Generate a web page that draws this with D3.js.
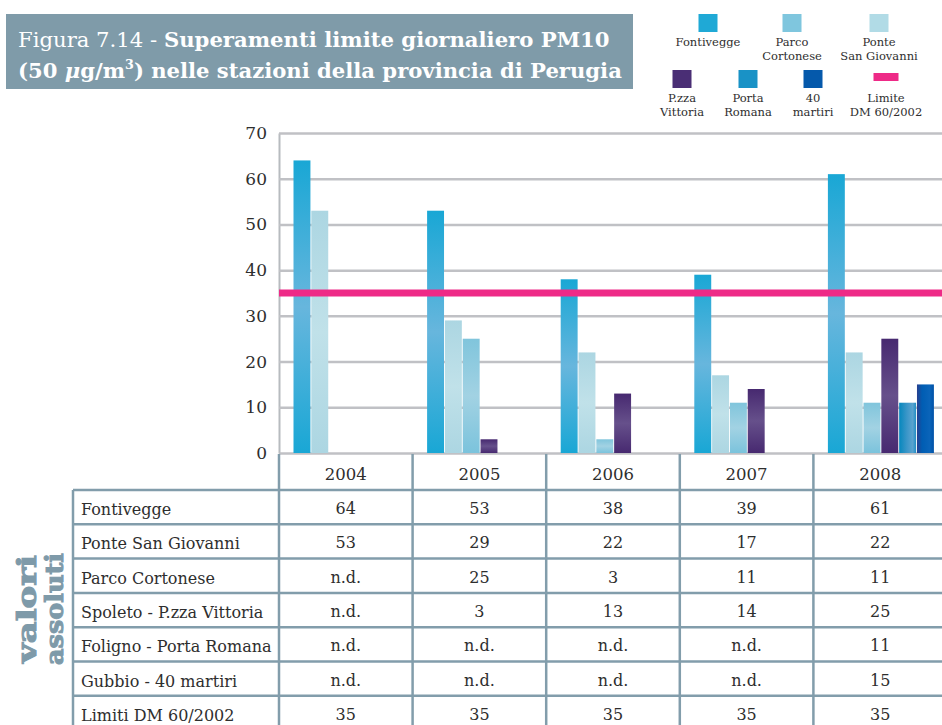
<!DOCTYPE html>
<html lang="it">
<head>
<meta charset="UTF-8">
<title>Figura 7.14 - Superamenti limite giornaliero PM10</title>
<script src="https://d3js.org/d3.v7.min.js"></script>
<style>
  body { margin: 0; background: #fff; }
</style>
</head>
<body>
<svg width="942" height="725"></svg>
<script>
// dati (numero di superamenti)
const years = ['2004', '2005', '2006', '2007', '2008'];
const stations = ['Fontivegge', 'Ponte San Giovanni', 'Parco Cortonese',
  'Spoleto - P.zza Vittoria', 'Foligno - Porta Romana', 'Gubbio - 40 martiri'];
const fontivegge = [64, 53, 38, 39, 61];
const ponteSanGiovanni = [53, 29, 22, 17, 22];
const parcoCortonese = [null, 25, 3, 11, 11];
const pzzaVittoria = [null, 3, 13, 14, 25];
const portaRomana = [null, null, null, null, 11];
const quarantaMartiri = [null, null, null, null, 15];
const limite = [35, 35, 35, 35, 35];
const limiteLabel = 'Limiti DM 60/2002';
const yTicks = [0, 10, 20, 30, 40, 50, 60, 70];

const legendItems = [
  { key: 'font', lines: ['Fontivegge'] },
  { key: 'parco', lines: ['Parco', 'Cortonese'] },
  { key: 'ponte', lines: ['Ponte', 'San Giovanni'] },
  { key: 'vitt', lines: ['P.zza', 'Vittoria'] },
  { key: 'porta', lines: ['Porta', 'Romana'] },
  { key: 'mart', lines: ['40', 'martiri'] },
  { key: 'lim', lines: ['Limite', 'DM 60/2002'] }
];

const series = [
  { key: 'font', values: fontivegge },
  { key: 'ponte', values: ponteSanGiovanni },
  { key: 'parco', values: parcoCortonese },
  { key: 'vitt', values: pzzaVittoria },
  { key: 'porta', values: portaRomana },
  { key: 'mart', values: quarantaMartiri }
];

const flat = { font: '#1fa9d6', parco: '#7fc6de', ponte: '#b1dbe6', vitt: '#4a2e75',
  porta: '#1992c6', mart: '#0559ab', lim: '#ee2a87' };

const SERIF = '"DejaVu Serif", "Liberation Serif", serif';
const ink = '#2e2e2e';

const svg = d3.select('svg');
const defs = svg.append('defs');

function grad(id, vertical, stops) {
  const g = defs.append('linearGradient').attr('id', id)
    .attr('x1', 0).attr('y1', 0)
    .attr('x2', vertical ? 0 : 1).attr('y2', vertical ? 1 : 0);
  stops.forEach(s => g.append('stop').attr('offset', s[0]).attr('stop-color', s[1]));
}
grad('g-font', true, [[0, '#19a7d5'], [0.5, '#67b6dd'], [1, '#19a7d5']]);
grad('g-ponte', true, [[0, '#acd6e2'], [0.5, '#c0e1e9'], [1, '#acd6e2']]);
grad('g-parco', true, [[0, '#80c5dc'], [0.5, '#a2d2e3'], [1, '#7bc3dc']]);
grad('g-vitt', true, [[0, '#472970'], [0.5, '#66508b'], [1, '#472970']]);
grad('g-porta', false, [[0, '#0687bd'], [0.45, '#3a96c8'], [0.8, '#5aa3cf'], [1, '#1f8ec5']]);
grad('g-mart', false, [[0, '#283f8e'], [0.3, '#005db3'], [0.75, '#0a64b9'], [1, '#0051a7']]);

// titolo
svg.append('rect').attr('x', 6).attr('y', 14).attr('width', 627).attr('height', 75)
  .attr('fill', '#7f9ba9');

function fit(sel, target) {
  const w = sel.node().getComputedTextLength();
  const fs = parseFloat(sel.style('font-size'));
  sel.style('font-size', (fs * target / w) + 'px');
}
const t1 = svg.append('text').attr('x', 18).attr('y', 47)
  .style('font-family', SERIF).style('font-size', '21px').style('fill', '#fff');
t1.append('tspan').text('Figura 7.14 - ');
t1.append('tspan').style('font-weight', 'bold').text('Superamenti limite giornaliero PM10');
fit(t1, 592);
const t2 = svg.append('text').attr('x', 18).attr('y', 78)
  .style('font-family', SERIF).style('font-size', '21px').style('font-weight', 'bold')
  .style('fill', '#fff');
t2.append('tspan').text('(50 ');
t2.append('tspan').style('font-style', 'italic').text('μ');
t2.append('tspan').text('g/m');
t2.append('tspan').style('font-size', '0.6em').attr('dy', -9).text('3');
t2.append('tspan').attr('dy', 9).text(') nelle stazioni della provincia di Perugia');
fit(t2, 604);

// legenda
const legendPos = [[708, 14], [792, 14], [879, 14], [682, 70], [748, 70], [813, 70], [886, 70]];
const legend = svg.append('g').selectAll('g').data(legendItems).enter().append('g')
  .attr('transform', (d, i) => `translate(${legendPos[i][0]},${legendPos[i][1]})`);
legend.filter(d => d.key !== 'lim').append('rect')
  .attr('x', -9.5).attr('y', 0).attr('width', 19).attr('height', 18)
  .attr('fill', d => flat[d.key]);
legend.filter(d => d.key === 'lim').append('rect')
  .attr('x', -12.5).attr('y', 3).attr('width', 25).attr('height', 8)
  .attr('fill', flat.lim);
legend.each(function (d) {
  const g = d3.select(this);
  d.lines.forEach((l, j) => g.append('text').attr('x', 0).attr('y', 32 + j * 13.5)
    .attr('text-anchor', 'middle')
    .style('font-family', SERIF).style('font-size', '11.5px').style('fill', ink).text(l));
});

// scale
const y = d3.scaleLinear().domain([0, 70]).range([453, 133]);
const x0 = d3.scaleBand().domain(years).range([279, 947]);
const x1 = d3.scaleBand().domain(series.map(s => s.key)).range([14.5, 120.5]).paddingInner(0.05);

// griglia
const grid = svg.append('g').attr('transform', 'translate(279,0)')
  .call(d3.axisLeft(y).tickValues(yTicks).tickSize(-663).tickSizeOuter(0).tickFormat(''));
grid.selectAll('.tick line').attr('stroke', '#c0c1c5').attr('stroke-width', 2.5);
grid.select('.domain').attr('stroke', '#b7bbbf').attr('stroke-width', 2);

const yLab = svg.append('g').attr('transform', 'translate(267,0)')
  .call(d3.axisLeft(y).tickValues(yTicks).tickSize(0).tickPadding(0));
yLab.select('.domain').remove();
yLab.selectAll('text').style('font-size', '17px').style('font-family', SERIF)
  .style('fill', ink).attr('dy', '0.32em');

// barre
const bars = svg.append('g');
series.forEach(s => {
  bars.selectAll('.b-' + s.key)
    .data(years.map((yr, i) => ({ yr, v: s.values[i] })).filter(d => d.v != null))
    .enter().append('rect')
    .attr('x', d => x0(d.yr) + x1(s.key))
    .attr('width', x1.bandwidth())
    .attr('y', d => y(d.v))
    .attr('height', d => y(0) - y(d.v))
    .attr('fill', `url(#g-${s.key})`);
});

// linea limite
svg.append('line').attr('x1', 279).attr('x2', 942)
  .attr('y1', y(limite[0])).attr('y2', y(limite[0]))
  .attr('stroke', flat.lim).attr('stroke-width', 7);

// tabella
const lineColor = '#829dab';
const rowLabels = stations.concat([limiteLabel]);
const rowValues = series.map(s => s.values).concat([limite]);
const rowY = d3.scaleBand().domain(rowLabels).range([490, 490 + 7 * 34.3]);
const table = svg.append('g');

rowLabels.forEach(r => {
  table.append('line').attr('x1', 73).attr('x2', 942)
    .attr('y1', rowY(r)).attr('y2', rowY(r))
    .attr('stroke', lineColor).attr('stroke-width', 2.5);
});
table.append('line').attr('x1', 73).attr('x2', 73).attr('y1', 490).attr('y2', 725)
  .attr('stroke', lineColor).attr('stroke-width', 2.5);
years.forEach(yr => {
  table.append('line').attr('x1', x0(yr)).attr('x2', x0(yr)).attr('y1', 454).attr('y2', 725)
    .attr('stroke', lineColor).attr('stroke-width', 2.5);
  table.append('text').attr('x', x0(yr) + x0.bandwidth() / 2).attr('y', 480)
    .attr('text-anchor', 'middle')
    .style('font-family', SERIF).style('font-size', '16.5px').style('fill', ink).text(yr);
});
rowLabels.forEach((r, i) => {
  const mid = rowY(r) + rowY.bandwidth() / 2;
  table.append('text').attr('x', 81).attr('y', mid + 8)
    .style('font-family', SERIF).style('font-size', '16px').style('fill', ink).text(r);
  years.forEach((yr, j) => {
    const v = rowValues[i][j];
    table.append('text').attr('x', x0(yr) + x0.bandwidth() / 2).attr('y', mid + 7)
      .attr('text-anchor', 'middle')
      .style('font-family', SERIF).style('font-size', '16px').style('fill', ink)
      .text(v == null ? 'n.d.' : v);
  });
});

// etichetta verticale
const side = svg.append('g')
  .style('font-family', SERIF).style('font-weight', 'bold')
  .style('fill', '#7e9aa9').style('stroke', '#7e9aa9').style('stroke-width', 1);
side.append('text').attr('transform', 'translate(36,663) rotate(-90)')
  .style('font-size', '26px')
  .attr('textLength', 108).attr('lengthAdjust', 'spacingAndGlyphs')
  .text('valori');
side.append('text').attr('transform', 'translate(63,665) rotate(-90)')
  .style('font-size', '25px')
  .attr('textLength', 112).attr('lengthAdjust', 'spacingAndGlyphs')
  .text('assoluti');
</script>
</body>
</html>
